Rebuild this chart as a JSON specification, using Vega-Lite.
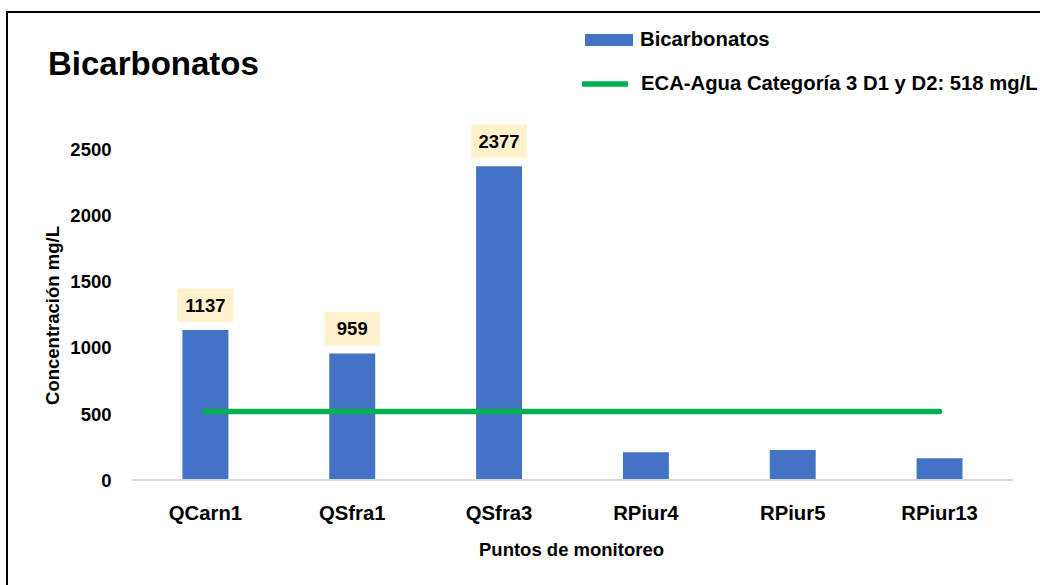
{
  "$schema": "https://vega.github.io/schema/vega-lite/v6.json",
  "width": 1036,
  "height": 576,
  "autosize": {"type": "none"},
  "padding": {"left": 7, "top": 12, "right": 0, "bottom": 0},
  "background": "white",
  "config": {
    "view": {"stroke": "black", "strokeWidth": 2},
    "font": "Liberation Sans",
    "axisX": {
      "offset": -108, "domain": false, "ticks": false, "tickSize": 0, "grid": false,
      "labelPadding": 39, "labelBaseline": "alphabetic", "labelFontSize": 20.3, "labelFontWeight": "bold",
      "labelColor": "black", "labelAngle": 0,
      "titleFontSize": 18.5, "titleFontWeight": "bold", "titleColor": "black",
      "titleX": 564, "titleY": 75, "titleBaseline": "alphabetic"
    },
    "axisY": {
      "offset": -104, "domain": false, "ticks": false, "tickSize": 0, "grid": false,
      "labelPadding": 0, "labelFontSize": 18.5, "labelFontWeight": "bold", "labelColor": "black",
      "titleFontSize": 18.5, "titleFontWeight": "bold", "titleColor": "black",
      "titleX": -59, "titleY": 303, "titleBaseline": "middle"
    }
  },
  "title": {
    "text": "Bicarbonatos", "anchor": "start", "frame": "group", "fontSize": 33,
    "fontWeight": "bold", "color": "black", "baseline": "alphabetic", "offset": 0, "dx": 41, "dy": 96
  },
  "datasets": {
    "bicarbonatos": [
      {"punto": "QCarn1", "valor": 1137, "serie": "Bicarbonatos"},
      {"punto": "QSfra1", "valor": 959, "serie": "Bicarbonatos"},
      {"punto": "QSfra3", "valor": 2377, "serie": "Bicarbonatos"},
      {"punto": "RPiur4", "valor": 210, "serie": "Bicarbonatos"},
      {"punto": "RPiur5", "valor": 227, "serie": "Bicarbonatos"},
      {"punto": "RPiur13", "valor": 164, "serie": "Bicarbonatos"}
    ],
    "eca": [
      {"punto": "QCarn1", "valor": 518, "serie": "ECA-Agua Categoría 3 D1 y D2: 518 mg/L"},
      {"punto": "QSfra1", "valor": 518, "serie": "ECA-Agua Categoría 3 D1 y D2: 518 mg/L"},
      {"punto": "QSfra3", "valor": 518, "serie": "ECA-Agua Categoría 3 D1 y D2: 518 mg/L"},
      {"punto": "RPiur4", "valor": 518, "serie": "ECA-Agua Categoría 3 D1 y D2: 518 mg/L"},
      {"punto": "RPiur5", "valor": 518, "serie": "ECA-Agua Categoría 3 D1 y D2: 518 mg/L"},
      {"punto": "RPiur13", "valor": 518, "serie": "ECA-Agua Categoría 3 D1 y D2: 518 mg/L"}
    ]
  },
  "layer": [
    {
      "data": {"name": "bicarbonatos"},
      "mark": {"type": "bar", "width": {"band": 0.313}},
      "encoding": {
        "x": {
          "field": "punto", "type": "nominal", "title": "Puntos de monitoreo",
          "scale": {"domain": ["QCarn1", "QSfra1", "QSfra3", "RPiur4", "RPiur5", "RPiur13"], "paddingInner": 0, "paddingOuter": 0.5279, "align": 0.8063}
        },
        "y": {
          "field": "valor", "type": "quantitative", "title": "Concentración mg/L",
          "scale": {"domain": [-818.18, 3545.45], "nice": false, "zero": false},
          "axis": {"values": [0, 500, 1000, 1500, 2000, 2500], "format": "d"}
        },
        "y2": {"datum": 0},
        "fill": {
          "field": "serie", "type": "nominal",
          "scale": {"range": ["#4472C4"]},
          "legend": {
            "orient": "none", "legendX": 578, "legendY": 4, "title": null, "padding": 0,
            "symbolType": "M-1,-0.25H1V0.25H-1Z", "symbolSize": 2304, "symbolStrokeWidth": 0,
            "labelFontSize": 20.3, "labelFontWeight": "bold", "labelColor": "black", "labelOffset": 7, "labelLimit": 600
          }
        }
      }
    },
    {
      "data": {"name": "bicarbonatos"},
      "mark": {"type": "rule", "color": "#D9D9D9", "strokeWidth": 2},
      "encoding": {
        "x": {"datum": "QCarn1", "type": "nominal", "bandPosition": 0, "title": "Puntos de monitoreo"},
        "x2": {"datum": "RPiur13", "bandPosition": 1},
        "y": {"datum": 0, "type": "quantitative", "title": "Concentración mg/L"}
      }
    },
    {
      "data": {"name": "bicarbonatos"},
      "transform": [{"filter": "datum.valor > 500"}],
      "mark": {"type": "point", "shape": "M-1,-0.6H1V0.6H-1Z", "size": 3136, "filled": true, "fill": "#FFF2CC", "opacity": 1, "yOffset": -24.7},
      "encoding": {
        "x": {"field": "punto", "type": "nominal", "title": "Puntos de monitoreo"},
        "y": {"field": "valor", "type": "quantitative", "title": "Concentración mg/L"}
      }
    },
    {
      "data": {"name": "bicarbonatos"},
      "transform": [{"filter": "datum.valor > 500"}],
      "mark": {"type": "text", "fontSize": 18.5, "fontWeight": "bold", "color": "black", "baseline": "middle", "dy": -24},
      "encoding": {
        "x": {"field": "punto", "type": "nominal", "title": "Puntos de monitoreo"},
        "y": {"field": "valor", "type": "quantitative", "title": "Concentración mg/L"},
        "text": {"field": "valor", "type": "quantitative", "format": "d"}
      }
    },
    {
      "data": {"name": "eca"},
      "mark": {"type": "line", "strokeWidth": 5.5, "strokeCap": "round"},
      "encoding": {
        "x": {"field": "punto", "type": "nominal", "title": "Puntos de monitoreo"},
        "y": {"field": "valor", "type": "quantitative", "title": "Concentración mg/L"},
        "stroke": {
          "field": "serie", "type": "nominal",
          "scale": {"range": ["#00B050"]},
          "legend": {
            "orient": "none", "legendX": 572, "legendY": 46, "title": null, "padding": 0,
            "symbolType": "stroke", "symbolSize": 2116, "symbolStrokeWidth": 5.5,
            "labelFontSize": 20.3, "labelFontWeight": "bold", "labelColor": "black", "labelOffset": 10, "labelLimit": 600
          }
        }
      }
    }
  ]
}
